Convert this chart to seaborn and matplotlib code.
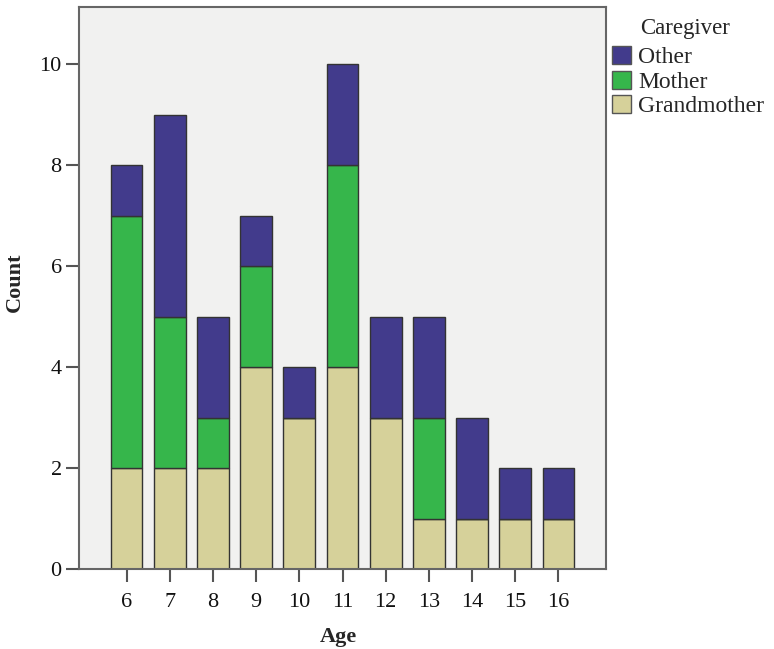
import matplotlib
matplotlib.use("Agg")
import matplotlib.pyplot as plt
import seaborn as sns
import pandas as pd
from matplotlib.patches import Patch

ages = [6, 7, 8, 9, 10, 11, 12, 13, 14, 15, 16]
grandmother = [2, 2, 2, 4, 3, 4, 3, 1, 1, 1, 1]
mother = [5, 3, 1, 2, 0, 4, 0, 2, 0, 0, 0]
other = [1, 4, 2, 1, 1, 2, 2, 2, 2, 1, 1]
caregivers = ["Other", "Mother", "Grandmother"]
colors = {"Other": "#423B8C", "Mother": "#36B64B", "Grandmother": "#D6D19A"}

rows = []
for a, g, m, o in zip(ages, grandmother, mother, other):
    rows.append({"Age": a, "Caregiver": "Grandmother", "Count": g})
    rows.append({"Age": a, "Caregiver": "Mother", "Count": m})
    rows.append({"Age": a, "Caregiver": "Other", "Count": o})
df = pd.DataFrame(rows)

sns.set_theme(style="white")
plt.rcParams["font.family"] = ["Liberation Serif", "DejaVu Serif"]

fig = plt.figure(figsize=(7.74, 6.49), dpi=100)
ax = fig.add_axes([79/774, 1 - 569/649, (606-79)/774, (569-7)/649])
ax.set_facecolor("#F1F1F0")

sns.histplot(data=df, x="Age", weights="Count", hue="Caregiver",
             hue_order=caregivers, multiple="stack", discrete=True,
             shrink=0.74, palette=colors, alpha=1, edgecolor="#333333",
             linewidth=1.0, ax=ax, legend=False)

ax.set_xlim(4.9, 17.1)
ax.set_ylim(0, 11.13)
ax.set_xticks(ages)
ax.set_xticklabels([str(a) for a in ages])
ax.set_yticks([0, 2, 4, 6, 8, 10])
ax.tick_params(axis="both", direction="out", length=9.5, width=1.5, color="#555555",
               labelsize=16, labelcolor="#111111", pad=3, bottom=True, left=True)
ax.tick_params(axis="x", pad=8)
for s in ax.spines.values():
    s.set_color("#666666")
    s.set_linewidth(1.5)

ax.set_xlabel("")
ax.set_ylabel("")
fig.text(338/774, 1 - 637/649, "Age", fontsize=16, fontweight="bold",
         ha="center", va="center")
fig.text(15/774, 1 - 282/649, "Count", fontsize=16, fontweight="bold",
         ha="center", va="center", rotation=90)

handles = [Patch(facecolor=colors[c], edgecolor="#555555", linewidth=1.0) for c in caregivers]
fig.legend(handles, caregivers, loc="upper left", bbox_to_anchor=(612/774, 1 - 46/649),
           frameon=False, fontsize=17, handlelength=0.8, handleheight=0.8,
           handletextpad=0.3, labelspacing=0.1, borderaxespad=0, borderpad=0)
fig.text(640/774, 1 - 34/649, "Caregiver", fontsize=16.5, ha="left", va="baseline")

fig.savefig("out.png", dpi=100)
